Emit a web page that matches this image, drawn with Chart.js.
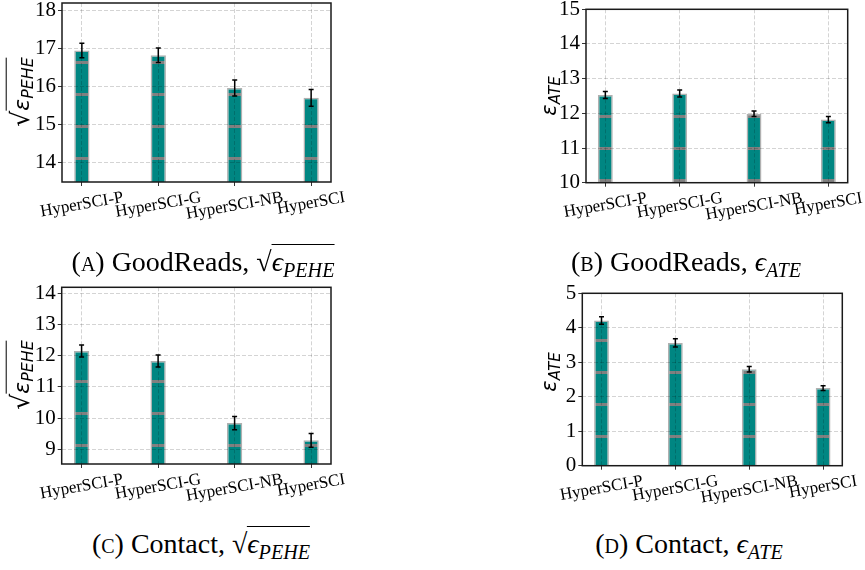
<!DOCTYPE html>
<html>
<head>
<meta charset="utf-8">
<script src="https://cdn.jsdelivr.net/npm/chart.js@4.4.1/dist/chart.umd.min.js"></script>
<style>
  html, body { margin:0; padding:0; background:#fff; }
  body { width:865px; height:570px; position:relative; overflow:hidden; }
  canvas { position:absolute; }
  .yl { position:absolute; width:0; height:0; }
  .yl > div { position:absolute; left:0; top:0; transform:translate(-50%,-50%) rotate(-90deg);
    white-space:nowrap; font-family:"DejaVu Sans", sans-serif; font-size:22px; font-style:italic; line-height:1; color:#000; }
  .yl .rad { font-style:normal; font-size:25px; }
  .yl .ov { border-top:1.6px solid #000; padding-top:2px; }
  .yl sub { font-size:0.72em; vertical-align:-0.3em; }
  .yl.ate > div { font-size:21px; }
  .cap { position:absolute; transform:translateX(-50%); font-family:"Liberation Serif", "Times New Roman", "DejaVu Serif", serif; font-size:28px; white-space:nowrap; color:#000; line-height:1.2; }
  .cap .sc { font-variant:small-caps; }
  .cap .ov { border-top:1.4px solid #000; padding-top:1px; }
  .cap sub { font-size:0.72em; vertical-align:-0.3em; font-style:italic; }
</style>
</head>
<body>
<canvas id="cA" width="345" height="240" style="left:0px;top:0px"></canvas>
<canvas id="cB" width="365" height="240" style="left:500px;top:0px"></canvas>
<canvas id="cC" width="345" height="240" style="left:0px;top:280px"></canvas>
<canvas id="cD" width="365" height="240" style="left:500px;top:280px"></canvas>

<div class="yl" style="left:22px;top:92px"><div><span class="rad">√</span><span class="ov">ε<sub>PEHE</sub></span></div></div>
<div class="yl ate" style="left:551px;top:96px"><div>ε<sub>ATE</sub></div></div>
<div class="yl" style="left:22px;top:375px"><div><span class="rad">√</span><span class="ov">ε<sub>PEHE</sub></span></div></div>
<div class="yl ate" style="left:551px;top:372px"><div>ε<sub>ATE</sub></div></div>

<div class="cap" style="left:203px;top:245px">(<span class="sc">a</span>) GoodReads, √<span class="ov"><i>ϵ</i><sub>PEHE</sub></span></div>
<div class="cap" style="left:686px;top:245px">(<span class="sc">b</span>) GoodReads, <i>ϵ</i><sub>ATE</sub></div>
<div class="cap" style="left:201px;top:527px">(<span class="sc">c</span>) Contact, √<span class="ov"><i>ϵ</i><sub>PEHE</sub></span></div>
<div class="cap" style="left:689px;top:527px">(<span class="sc">d</span>) Contact, <i>ϵ</i><sub>ATE</sub></div>

<script>
// ---------------- data ----------------
const categories = ['HyperSCI-P', 'HyperSCI-G', 'HyperSCI-NB', 'HyperSCI'];

const goodreadsPEHE    = [16.95, 16.83, 15.97, 15.71];
const goodreadsPEHEErr = [0.19, 0.19, 0.21, 0.22];
const goodreadsPEHETicks = [14, 15, 16, 17, 18];
const goodreadsPEHERange = [13.5, 18.2];

const goodreadsATE    = [12.53, 12.57, 11.99, 11.82];
const goodreadsATEErr = [0.10, 0.10, 0.08, 0.09];
const goodreadsATETicks = [10, 11, 12, 13, 14, 15];
const goodreadsATERange = [10, 15];

const contactPEHE    = [12.15, 11.83, 9.84, 9.29];
const contactPEHEErr = [0.19, 0.19, 0.21, 0.22];
const contactPEHETicks = [9, 10, 11, 12, 13, 14];
const contactPEHERange = [8.53, 14.19];

const contactATE    = [4.21, 3.56, 2.80, 2.25];
const contactATEErr = [0.11, 0.12, 0.08, 0.07];
const contactATETicks = [0, 1, 2, 3, 4, 5];
const contactATERange = [0, 5];

const xRange = [-0.26, 3.26];

// ---------------- styles ----------------
const SERIF = '"Liberation Serif", "Times New Roman", "DejaVu Serif", serif';
const TEAL = '#008682';
const HATCH = '#808080';
const EDGE = '#b0b0b0';
const GRID = 'rgba(0,0,0,0.17)';

function hatchPattern(ctx, offset) {
  const c = document.createElement('canvas');
  c.width = 16; c.height = 32;
  const g = c.getContext('2d');
  g.fillStyle = TEAL; g.fillRect(0, 0, 16, 32);
  g.fillStyle = HATCH;
  [offset - 1, offset - 1 - 32, offset - 1 + 32].forEach(y => g.fillRect(0, y, 16, 3));
  return ctx.createPattern(c, 'repeat');
}

const errorBarPlugin = {
  id: 'errbar',
  afterDatasetsDraw(chart) {
    const ctx = chart.ctx, xs = chart.scales.x, ys = chart.scales.y;
    const ds = chart.data.datasets[0];
    ctx.save();
    ctx.strokeStyle = '#000';
    ctx.lineWidth = 1.5;
    ds.data.forEach((p, i) => {
      const e = ds.errors[i];
      const px = xs.getPixelForValue(p.x);
      const y1 = ys.getPixelForValue(p.y - e), y2 = ys.getPixelForValue(p.y + e);
      ctx.beginPath();
      ctx.moveTo(px, y1); ctx.lineTo(px, y2);
      ctx.moveTo(px - 2.5, y1); ctx.lineTo(px + 2.5, y1);
      ctx.moveTo(px - 2.5, y2); ctx.lineTo(px + 2.5, y2);
      ctx.stroke();
    });
    ctx.restore();
  }
};

const decorPlugin = {
  id: 'decor',
  afterDraw(chart) {
    const ctx = chart.ctx, a = chart.chartArea, xs = chart.scales.x;
    ctx.save();
    ctx.strokeStyle = '#1a1a1a';
    ctx.lineWidth = 1.5;
    ctx.strokeRect(a.left, a.top, a.right - a.left, a.bottom - a.top);
    ctx.fillStyle = '#000';
    ctx.font = '17px ' + SERIF;
    ctx.textAlign = 'center';
    ctx.textBaseline = 'middle';
    const ang = 10 * Math.PI / 180;
    categories.forEach((lab, i) => {
      const px = xs.getPixelForValue(i);
      const w = ctx.measureText(lab).width;
      const bh = w * Math.sin(ang) + 15 * Math.cos(ang);
      const cy = a.bottom + 8 + bh / 2;
      ctx.save();
      ctx.translate(px, cy);
      ctx.rotate(-ang);
      ctx.fillText(lab, 0, 0);
      ctx.restore();
    });
    ctx.restore();
  }
};

function makePanel(p) {
  const canvas = document.getElementById(p.id);
  const ctx = canvas.getContext('2d');
  const W = canvas.width, H = canvas.height;
  new Chart(ctx, {
    type: 'bar',
    data: {
      datasets: [{
        data: p.values.map((v, i) => ({ x: i, y: v })),
        errors: p.errors,
        backgroundColor: hatchPattern(ctx, p.hatch),
        borderColor: EDGE,
        borderWidth: 1.5,
        borderSkipped: 'start',
        base: p.range[0],
        barPercentage: 0.2,
        categoryPercentage: 1.0,
        clip: 0
      }]
    },
    options: {
      responsive: false,
      animation: false,
      devicePixelRatio: 1,
      layout: { padding: { left: 0, right: W - p.area.r, top: p.area.t, bottom: 0 } },
      plugins: { legend: { display: false }, tooltip: { enabled: false } },
      scales: {
        x: {
          type: 'linear',
          min: xRange[0], max: xRange[1],
          offset: false,
          afterBuildTicks: s => { s.ticks = categories.map((c, i) => ({ value: i })); },
          afterFit: s => { s.height = H - p.area.b; s.paddingLeft = 0; s.paddingRight = 0; },
          ticks: { display: false },
          grid: { offset: false, color: GRID, lineWidth: 1, z: 1, drawTicks: true, tickLength: 4, tickColor: '#333', tickWidth: 1 },
          border: { display: false, dash: [4, 2] }
        },
        y: {
          type: 'linear',
          min: p.range[0], max: p.range[1],
          afterBuildTicks: s => { s.ticks = p.ticks.map(v => ({ value: v })); },
          afterFit: s => { s.width = p.area.l; s.paddingTop = 0; s.paddingBottom = 0; },
          ticks: {
            autoSkip: false,
            padding: 2,
            color: '#000',
            font: { family: SERIF, size: 21 },
            callback: v => String(v)
          },
          grid: { color: GRID, lineWidth: 1, z: 1, drawTicks: true, tickLength: 4, tickColor: '#333', tickWidth: 1 },
          border: { display: false, dash: [4, 2] }
        }
      }
    },
    plugins: [errorBarPlugin, decorPlugin]
  });
}

makePanel({ id: 'cA', area: { l: 62, r: 331, t: 3, b: 182 }, hatch: 30,
  values: goodreadsPEHE, errors: goodreadsPEHEErr, ticks: goodreadsPEHETicks, range: goodreadsPEHERange });
makePanel({ id: 'cB', area: { l: 86, r: 347.7, t: 9.3, b: 182.7 }, hatch: 20,
  values: goodreadsATE, errors: goodreadsATEErr, ticks: goodreadsATETicks, range: goodreadsATERange });
makePanel({ id: 'cC', area: { l: 61.7, r: 331, t: 7.3, b: 184 }, hatch: 5,
  values: contactPEHE, errors: contactPEHEErr, ticks: contactPEHETicks, range: contactPEHERange });
makePanel({ id: 'cD', area: { l: 82.3, r: 342.3, t: 13.3, b: 185.7 }, hatch: 28,
  values: contactATE, errors: contactATEErr, ticks: contactATETicks, range: contactATERange });
</script>
</body>
</html>
